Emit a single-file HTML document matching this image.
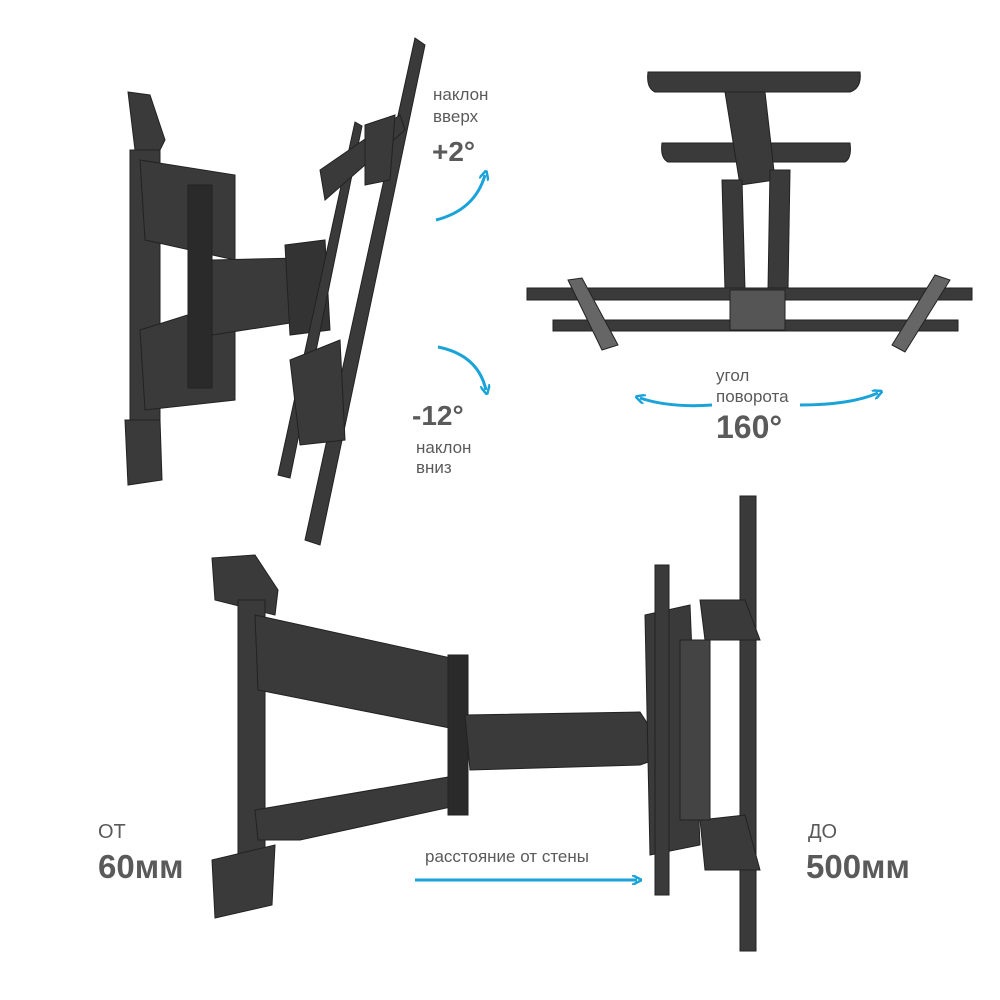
<!DOCTYPE html>
<html><head><meta charset="utf-8"><style>
html,body{margin:0;padding:0;background:#fff;}
svg{display:block;}
text{font-family:"Liberation Sans",sans-serif;fill:#5a5a5a;}
.b{font-weight:bold;}
</style></head><body>
<svg width="1000" height="1000" viewBox="0 0 1000 1000" xmlns="http://www.w3.org/2000/svg">
<defs>
<marker id="ah" markerWidth="10" markerHeight="10" refX="5" refY="5" orient="auto" markerUnits="userSpaceOnUse">
<path d="M0,0 L10,5 L0,10" fill="none" stroke="#1aa3d9" stroke-width="2.5"/></marker>
</defs>
<g fill="#3a3a3a" stroke="#222" stroke-width="1">
<polygon points="128,92 150,95 165,140 160,150 135,150"/>
<polygon points="130,150 160,150 160,430 130,430"/>
<polygon points="125,420 160,420 162,480 128,485"/>
<polygon points="140,160 235,175 235,260 145,240"/>
<polygon points="140,330 235,300 235,400 145,410"/>
<polygon points="188,185 212,185 212,388 188,388" fill="#2a2a2a"/>
<polygon points="212,260 300,258 310,320 212,335"/>
<polygon points="285,245 325,240 330,330 290,335" fill="#333"/>
<polygon points="415,38 425,45 320,545 305,540"/>
<polygon points="355,122 362,126 290,478 278,475"/>
<polygon points="320,170 400,115 405,130 325,200"/>
<polygon points="290,360 340,340 345,440 300,445"/>
<polygon points="365,125 395,115 390,180 365,185"/>
<path d="M648,72 L860,72 Q862,88 850,92 L655,92 Q646,88 648,72Z"/>
<path d="M662,143 L850,143 Q852,158 845,162 L668,162 Q660,158 662,143Z"/>
<polygon points="725,92 765,92 775,180 740,185"/>
<polygon points="722,180 742,180 745,290 725,290"/>
<polygon points="770,170 790,170 788,290 768,290"/>
<rect x="527" y="288" width="445" height="12"/>
<rect x="553" y="320" width="405" height="11"/>
<rect x="730" y="290" width="55" height="40" fill="#555"/>
<polygon points="568,280 582,278 618,345 602,350" fill="#666"/>
<polygon points="935,275 950,280 905,352 892,345" fill="#666"/>
<polygon points="212,558 255,555 278,590 275,615 215,600"/>
<polygon points="238,600 265,600 265,860 238,860"/>
<polygon points="212,860 275,845 272,905 215,918"/>
<polygon points="255,615 460,660 460,730 258,690"/>
<polygon points="255,810 460,775 460,805 300,840 258,840"/>
<polygon points="448,655 468,655 468,815 448,815" fill="#2a2a2a"/>
<polygon points="465,715 640,712 668,755 640,765 470,770"/>
<polygon points="645,615 690,605 700,845 650,855"/>
<rect x="740" y="496" width="16" height="455"/>
<rect x="655" y="565" width="14" height="330"/>
<polygon points="700,600 745,600 760,640 705,640"/>
<polygon points="700,820 745,815 760,870 705,870"/>
<rect x="680" y="640" width="30" height="180" fill="#444"/>
</g>
<text x="433" y="100" font-size="17">наклон</text>
<text x="433" y="122" font-size="17">вверх</text>
<text x="432" y="161" font-size="28" class="b">+2°</text>
<text x="412" y="425" font-size="28" class="b">-12°</text>
<text x="416" y="453" font-size="17">наклон</text>
<text x="416" y="473" font-size="17">вниз</text>
<text x="716" y="381" font-size="17">угол</text>
<text x="716" y="402" font-size="17">поворота</text>
<text x="716" y="438" font-size="32" class="b">160°</text>
<text x="98" y="838" font-size="20">ОТ</text>
<text x="98" y="878" font-size="33" class="b">60мм</text>
<text x="808" y="838" font-size="20">ДО</text>
<text x="806" y="878" font-size="33" class="b">500мм</text>
<text x="425" y="862" font-size="17">расстояние от стены</text>
<g fill="none" stroke="#1aa3d9" stroke-width="3">
<path d="M436,220 Q475,210 485,175" marker-end="url(#ah)"/>
<path d="M438,347 Q478,355 486,390" marker-end="url(#ah)"/>
<path d="M712,405 Q670,408 640,398" marker-end="url(#ah)"/>
<path d="M800,405 Q850,405 878,393" marker-end="url(#ah)"/>
<path d="M415,880 L637,880" marker-end="url(#ah)"/>
</g>
</svg>
</body></html>
